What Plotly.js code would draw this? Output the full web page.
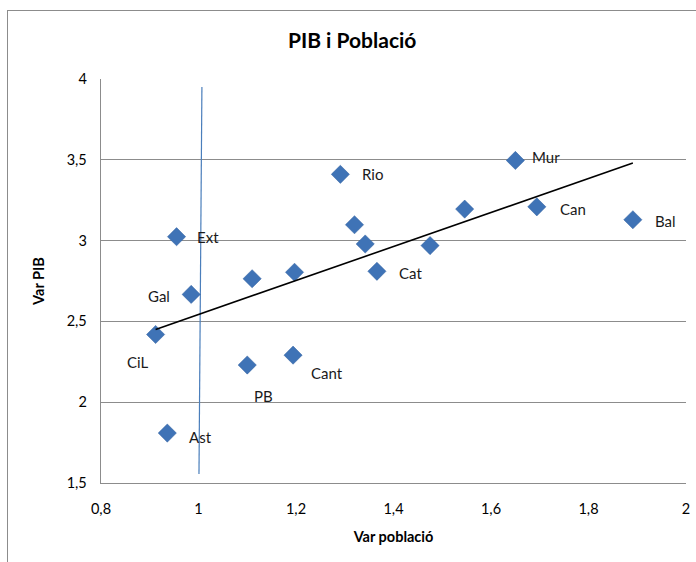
<!DOCTYPE html>
<html><head><meta charset="utf-8">
<script src="https://cdn.plot.ly/plotly-3.0.1.min.js"></script>
<style>
body{margin:0;padding:0;background:#fff;}
#chart{position:absolute;left:0;top:0;width:696px;height:562px;}
#frame{position:absolute;left:7px;top:10px;width:700px;height:560px;border-left:1px solid #8c8c8c;border-top:1px solid #8c8c8c;pointer-events:none;}
</style></head>
<body><div id="chart"></div><div id="frame"></div>
<script>
// data
const labels = ['Ast','CiL','Gal','Ext','','','PB','Cant','Rio','','','Cat','','','Mur','Can','Bal'];
const varPoblacio = [0.936,0.912,0.985,0.955,1.110,1.197,1.100,1.194,1.291,1.320,1.342,1.366,1.475,1.546,1.650,1.694,1.891];
const varPIB = [1.809,2.419,2.667,3.024,2.764,2.804,2.230,2.291,3.410,3.098,2.979,2.810,2.969,3.195,3.496,3.209,3.129];
const trendX = [0.912,1.891];
const trendY = [2.45,3.48];
const refLineX = [1.007,1.001];
const refLineY = [3.95,1.556];
// label offsets (px) per label
const labelOffsets = {Ast:[33,4],CiL:[-18,28],Gal:[-32,2],Ext:[31,0],PB:[16,31],Cant:[34,18],Rio:[32,0],Cat:[34,2],Mur:[31,-3],Can:[36,2],Bal:[33,1]};

const font = 'Lato, "Open Sans", sans-serif';
const annotations = [];
labels.forEach((l,i)=>{
  if(!l) return;
  const o = labelOffsets[l];
  annotations.push({x:varPoblacio[i], y:varPIB[i], text:l, showarrow:false, xshift:o[0], yshift:-o[1],
    font:{family:font,size:15,color:'#1a1a1a'}});
});

const traces = [
  {x:refLineX, y:refLineY, mode:'lines', line:{color:'#4a7ebb',width:1.2}, hoverinfo:'skip'},
  {x:varPoblacio, y:varPIB, mode:'markers', marker:{symbol:'diamond', size:14, color:'#3f73b6', line:{color:'#2f5f9e',width:0.5}}},
  {x:trendX, y:trendY, mode:'lines', line:{color:'#000',width:1.6}, hoverinfo:'skip'}
];

const layout = {
  width:696, height:562, showlegend:false, separators:',.',
  paper_bgcolor:'#fff', plot_bgcolor:'#fff',
  margin:{l:100.5, r:10, t:79, b:78.5},
  title:{text:'<b>PIB i Població</b>', x:0.506, xanchor:'center', y:0.927, yanchor:'middle', font:{family:font,size:21,color:'#000'}},
  xaxis:{range:[0.8,2], dtick:0.2, tick0:0.8, showgrid:false, zeroline:false, showline:true, linecolor:'#8c8c8c', linewidth:1.3,
    ticks:'', ticklabelstandoff:12, tickfont:{family:font,size:14.5,color:'#000'},
    title:{text:'<b>Var població</b>', font:{family:font,size:14.5,color:'#000'}, standoff:16}},
  yaxis:{range:[1.5,4], dtick:0.5, tick0:1.5, showgrid:true, gridcolor:'#8c8c8c', gridwidth:1, zeroline:false, showline:true, linecolor:'#8c8c8c', linewidth:1.3,
    ticks:'', ticklabelstandoff:10, tickfont:{family:font,size:14.5,color:'#000'},
    title:{text:'<b>Var PIB</b>', font:{family:font,size:14.5,color:'#000'}, standoff:18}},
  annotations:annotations
};
Plotly.newPlot('chart', traces, layout, {displayModeBar:false, staticPlot:true});
</script></body></html>
